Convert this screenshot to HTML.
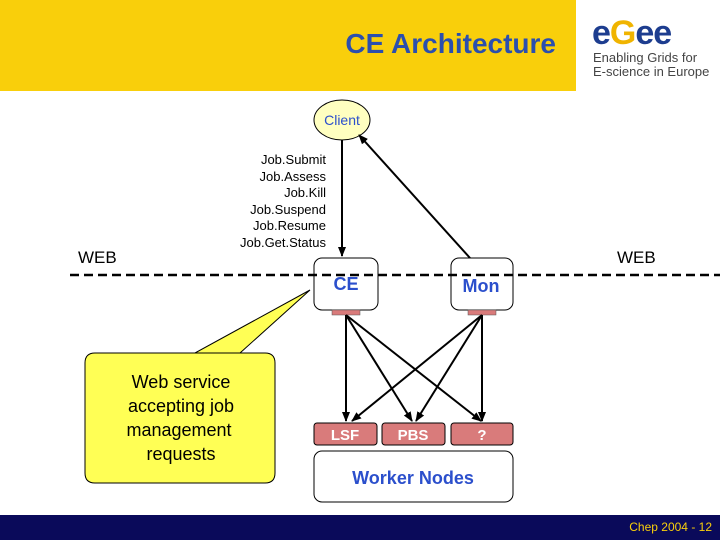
<!DOCTYPE html>
<html><head><style>
body{margin:0;width:720px;height:540px;overflow:hidden;background:#fff;font-family:"Liberation Sans",sans-serif;position:relative}
.a{position:absolute}
</style></head><body>
<div class="a" style="left:0;top:0;width:576px;height:91px;background:#f9cf0b"></div>
<div class="a" style="left:0;top:28px;width:556px;text-align:right;font-size:28px;font-weight:bold;color:#2b4fae">CE Architecture</div>
<div class="a" style="left:592px;top:16px;font-size:34px;font-weight:bold;letter-spacing:-1px;color:#1d3d8f;line-height:34px">e<span style="color:#f0b400">G</span>ee</div>
<div class="a" style="left:593px;top:51px;font-size:13px;line-height:14px;color:#444">Enabling Grids for<br>E-science in Europe</div>
<svg class="a" style="left:0;top:0" width="720" height="540">
<defs><marker id="m" markerWidth="10" markerHeight="10" refX="9" refY="5" orient="auto" markerUnits="userSpaceOnUse"><path d="M0,1 L10,5 L0,9 Z" fill="#000"/></marker></defs>
<ellipse cx="342" cy="120" rx="28" ry="20" fill="#ffffc0" stroke="#000"/>
<line x1="342" y1="140" x2="342" y2="256" stroke="#000" stroke-width="2" marker-end="url(#m)"/>
<line x1="470" y1="258" x2="359" y2="135" stroke="#000" stroke-width="2" marker-end="url(#m)"/>
<path d="M97,353 H265 Q275,353 275,363 V473 Q275,483 265,483 H95 Q85,483 85,473 V363 Q85,353 95,353 H195 L310,290 L240,353" fill="#ffff55" stroke="#000"/>
<rect x="314" y="258" width="64" height="52" rx="8" fill="#fff" stroke="#000"/>
<rect x="451" y="258" width="62" height="52" rx="8" fill="#fff" stroke="#000"/>
<line x1="70" y1="275" x2="720" y2="275" stroke="#000" stroke-width="2.5" stroke-dasharray="9,5"/>
<rect x="332" y="310" width="28" height="5" fill="#d97b7b" stroke="#555" stroke-width=".5"/>
<rect x="468" y="310" width="28" height="5" fill="#d97b7b" stroke="#555" stroke-width=".5"/>
<g stroke="#000" stroke-width="2" marker-end="url(#m)">
<line x1="346" y1="315" x2="346" y2="421"/>
<line x1="346" y1="315" x2="412" y2="421"/>
<line x1="346" y1="315" x2="481" y2="421"/>
<line x1="482" y1="315" x2="352" y2="421"/>
<line x1="482" y1="315" x2="416" y2="421"/>
<line x1="482" y1="315" x2="482" y2="421"/>
</g>
<rect x="314" y="423" width="63" height="22" rx="3" fill="#d97b7b" stroke="#000"/>
<rect x="382" y="423" width="63" height="22" rx="3" fill="#d97b7b" stroke="#000"/>
<rect x="451" y="423" width="62" height="22" rx="3" fill="#d97b7b" stroke="#000"/>
<rect x="314" y="451" width="199" height="51" rx="8" fill="#fff" stroke="#000"/>
<g font-family="Liberation Sans" font-weight="bold" fill="#fff" font-size="15" text-anchor="middle">
<text x="345" y="440">LSF</text><text x="413" y="440">PBS</text><text x="482" y="440">?</text></g>
<g font-family="Liberation Sans" fill="#2b4fcc" text-anchor="middle" font-weight="bold">
<text x="342" y="125" font-size="14" font-weight="normal">Client</text>
<text x="346" y="290" font-size="18">CE</text>
<text x="481" y="292" font-size="18">Mon</text>
<text x="413" y="484" font-size="18">Worker Nodes</text></g>
<g font-family="Liberation Sans" font-size="13" text-anchor="end" fill="#000">
<text x="326" y="164">Job.Submit</text><text x="326" y="181">Job.Assess</text><text x="326" y="197">Job.Kill</text><text x="326" y="214">Job.Suspend</text><text x="326" y="230">Job.Resume</text><text x="326" y="247">Job.Get.Status</text></g>
<g font-family="Liberation Sans" font-size="17" fill="#000">
<text x="78" y="263">WEB</text><text x="617" y="263">WEB</text></g>
<g font-family="Liberation Sans" font-size="18" fill="#000" text-anchor="middle">
<text x="181" y="388">Web service</text><text x="181" y="412">accepting job</text><text x="179" y="436">management</text><text x="181" y="460">requests</text></g>
<rect x="0" y="515" width="720" height="25" fill="#0a0a5a"/>
<text x="712" y="531" font-family="Liberation Sans" font-size="12" fill="#f9cf0b" text-anchor="end">Chep 2004 - 12</text>
</svg>
</body></html>
